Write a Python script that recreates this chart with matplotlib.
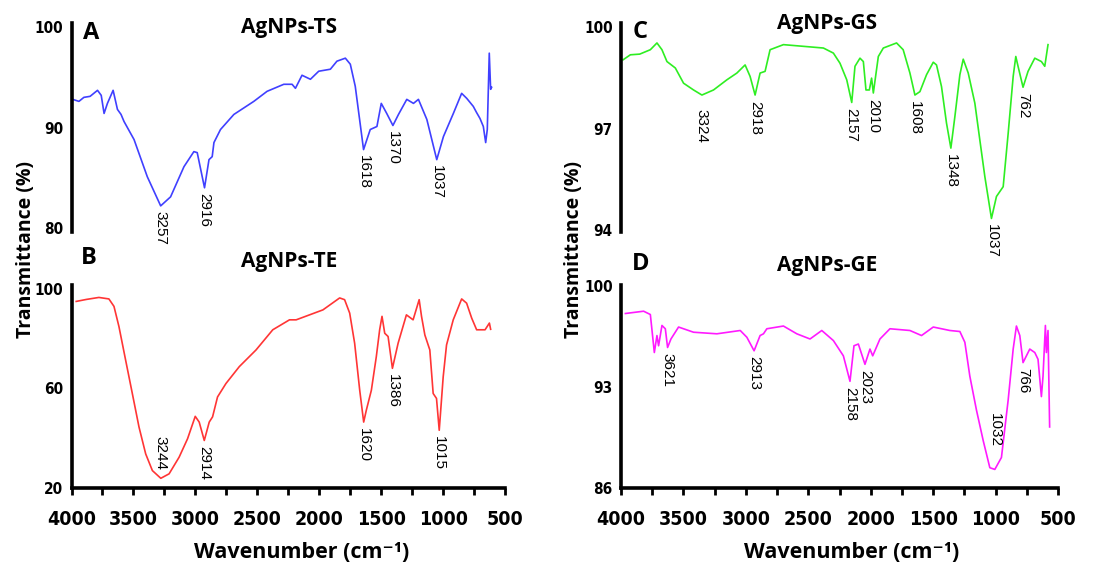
import numpy as np
import matplotlib
matplotlib.use("Agg")
import matplotlib.pyplot as plt
from matplotlib import font_manager
from matplotlib.font_manager import FontProperties
from matplotlib.ticker import MultipleLocator

# ---------------------------------------------------------
# Data
# ---------------------------------------------------------
ts_wn = [3990, 3940, 3900, 3850, 3790, 3760, 3737, 3710, 3664, 3629, 3600, 3576,
         3495, 3388, 3280, 3200, 3092, 3012, 2985, 2926, 2890, 2864, 2850, 2797,
         2689, 2528, 2421, 2286, 2219, 2192, 2139, 2071, 2004, 1910, 1857, 1789,
         1749, 1709, 1642, 1588, 1534, 1499, 1455, 1405, 1360, 1293, 1239, 1199,
         1131, 1051, 997, 917, 850, 809, 756, 730, 702, 675, 656, 643, 627, 616, 608]
ts_t = [92.8, 92.6, 93.0, 93.1, 93.7, 93.2, 91.4, 92.4, 93.7, 91.8, 91.3, 90.6,
        88.8, 85.1, 82.2, 83.1, 86.1, 87.6, 87.5, 84.0, 86.8, 87.1, 88.5, 89.8,
        91.3, 92.6, 93.6, 94.3, 94.3, 93.9, 95.2, 94.8, 95.6, 95.8, 96.6, 96.9,
        96.3, 94.1, 87.8, 89.8, 90.1, 92.4, 91.4, 90.2, 91.3, 92.8, 92.4, 92.8,
        90.8, 86.8, 89.1, 91.4, 93.4, 92.9, 92.1, 91.5, 90.9, 90.1, 88.5, 89.8,
        97.4, 93.8, 94.0]

te_wn = [3962, 3880, 3779, 3698, 3657, 3617, 3563, 3509, 3455, 3401, 3347, 3279,
         3212, 3131, 3063, 3001, 2969, 2928, 2888, 2861, 2821, 2753, 2645, 2510,
         2375, 2240, 2186, 2078, 1970, 1835, 1795, 1754, 1714, 1673, 1641, 1620,
         1579, 1539, 1512, 1493, 1471, 1444, 1409, 1363, 1296, 1242, 1193, 1174,
         1147, 1107, 1080, 1053, 1031, 999, 972, 918, 850, 810, 769, 729, 661,
         626, 616]
te_t = [95.0, 95.8, 96.6, 96.0, 93.0, 84.9, 71.4, 58.0, 44.5, 33.7, 27.0, 23.9,
        25.7, 32.4, 39.8, 48.8, 46.5, 39.1, 46.5, 48.6, 56.6, 62.0, 68.8, 75.5,
        83.6, 87.6, 87.6, 89.6, 91.6, 96.4, 95.7, 90.3, 78.2, 59.3, 46.5, 51.2,
        59.3, 72.8, 83.6, 89.0, 82.2, 80.9, 68.1, 78.2, 89.6, 87.6, 95.7, 89.0,
        81.5, 75.5, 58.0, 56.0, 43.2, 64.7, 77.5, 87.6, 96.0, 94.3, 88.3, 83.6,
        83.6, 86.3, 83.8]

gs_wn = [3984, 3925, 3850, 3765, 3712, 3672, 3632, 3565, 3499, 3419, 3352, 3259,
         3152, 3072, 3006, 2966, 2926, 2886, 2846, 2806, 2699, 2539, 2379, 2299,
         2246, 2192, 2152, 2126, 2086, 2059, 2038, 2011, 1993, 1979, 1939, 1899,
         1793, 1740, 1686, 1646, 1606, 1553, 1499, 1473, 1433, 1393, 1358, 1326,
         1286, 1259, 1219, 1166, 1126, 1086, 1033, 993, 939, 899, 859, 838, 820,
         780, 740, 686, 633, 606, 580]
gs_t = [99.03, 99.18, 99.20, 99.33, 99.53, 99.33, 98.98, 98.79, 98.34, 98.14, 97.99, 98.14,
        98.44, 98.64, 98.88, 98.54, 97.99, 98.64, 98.69, 99.33, 99.48, 99.43, 99.38, 99.23,
        98.93, 98.44, 97.77, 98.84, 99.08, 98.98, 98.14, 98.14, 98.49, 98.05, 99.13, 99.38,
        99.53, 99.33, 98.64, 97.99, 98.09, 98.59, 98.96, 98.88, 98.24, 97.16, 96.42, 97.35,
        98.59, 99.05, 98.64, 97.75, 96.66, 95.58, 94.34, 94.99, 95.28, 96.86, 98.54, 99.13, 98.84,
        98.22, 98.69, 99.08, 98.98, 98.84, 99.48]

ge_wn = [3965, 3819, 3765, 3733, 3712, 3699, 3672, 3645, 3627, 3600, 3539, 3419,
         3232, 3045, 2992, 2934, 2886, 2859, 2832, 2699, 2592, 2486, 2392, 2299,
         2219, 2166, 2134, 2099, 2046, 2006, 1984, 1926, 1846, 1686, 1593, 1499,
         1366, 1286, 1246, 1206, 1153, 1099, 1046, 1006, 953, 899, 859, 833, 806,
         780, 753, 726, 686, 660, 633, 620, 601, 593, 580, 567]
ge_t = [98.12, 98.28, 98.05, 95.41, 96.59, 95.88, 97.29, 97.06, 95.76, 96.35, 97.18, 96.82,
        96.71, 96.94, 96.47, 95.53, 96.59, 96.71, 97.06, 97.25, 96.71, 96.35, 96.94, 96.24,
        95.18, 93.41, 95.88, 96.00, 94.59, 95.65, 95.18, 96.35, 97.06, 96.94, 96.59, 97.18,
        96.94, 96.87, 96.12, 93.76, 91.41, 89.29, 87.41, 87.29, 88.12, 92.12, 95.65, 97.25, 96.59,
        94.71, 95.18, 95.65, 95.41, 94.94, 92.35, 93.76, 97.29, 95.41, 96.94, 90.24]

ts_peaks = [3257, 2916, 1618, 1370, 1037]
te_peaks = [3244, 2914, 1620, 1386, 1015]
gs_peaks = [3324, 2918, 2157, 2010, 1608, 1348, 1037, 762]
ge_peaks = [3621, 2913, 2158, 2023, 1032, 766]

# ---------------------------------------------------------
# Fonts: look for a bold condensed face for the tick numbers
# ---------------------------------------------------------
narrow_path = None
for f in font_manager.fontManager.ttflist:
    cond = ('Narrow' in f.name or 'Condensed' in f.name
            or f.stretch in ('condensed', 'semi-condensed'))
    if cond and f.weight in ('bold', 700, 'Bold'):
        narrow_path = f.fname
        break


def tick_font(size):
    if narrow_path:
        return FontProperties(fname=narrow_path, size=size)
    return FontProperties(family='Liberation Sans', weight='bold', size=size * 0.9)


HEAD = ['Open Sans', 'DejaVu Sans']

W, H = 1093, 569
fig = plt.figure(figsize=(W / 100, H / 100), dpi=100)


def box(x0, y0, x1, y1):
    # pixel box (top-left origin) -> figure fraction
    return [x0 / W, 1 - y1 / H, (x1 - x0) / W, (y1 - y0) / H]


def fx(px):
    return px / W


def fy(py):
    return 1 - py / H


panels = [
    # letter, title, wn, t, peaks, color, bbox, ylim, yticks, has_x,
    # label offsets (pt), letter xy (px), title xy (px)
    ("A", "AgNPs-TS", ts_wn, ts_t, ts_peaks, "#4040ff", box(71.5, 23, 505, 232),
     (79.6, 100.4), [80, 90, 100], False, {}, (91, 33), (289, 28)),
    ("B", "AgNPs-TE", te_wn, te_t, te_peaks, "#ff3535", box(71.5, 285, 505, 488),
     (20, 101.6), [20, 60, 100], True, {3244: 6}, (89, 258), (289, 262)),
    ("C", "AgNPs-GS", gs_wn, gs_t, gs_peaks, "#2eee22", box(621, 23, 1058, 232),
     (93.94, 100.12), [94, 97, 100], False, {3324: -10}, (640, 32), (827, 23)),
    ("D", "AgNPs-GE", ge_wn, ge_t, ge_peaks, "#ff1aff", box(621, 285, 1058, 488),
     (86, 100.1), [86, 93, 100], True, {1032: 16}, (641, 264), (827, 266)),
]

for (letter, title, wn, t, peaks, color, bb, ylim, yticks, has_x, offs,
     lxy, txy) in panels:
    ax = fig.add_axes(bb)
    ax.plot(wn, t, color=color, linewidth=1.2)
    ax.set_xlim(4000, 500)
    ax.set_ylim(*ylim)
    ax.set_yticks(yticks)
    ax.set_yticklabels([str(v) for v in yticks], fontproperties=tick_font(11))
    ax.tick_params(axis='y', length=0, pad=6)
    for s in ['top', 'right']:
        ax.spines[s].set_visible(False)
    ax.spines['left'].set_linewidth(2.6)
    if has_x:
        ax.spines['bottom'].set_linewidth(2.6)
        ax.xaxis.set_major_locator(MultipleLocator(500))
        ax.xaxis.set_minor_locator(MultipleLocator(250))
        ax.tick_params(axis='x', which='both', direction='out', length=5,
                       width=2, pad=11)
        for lb in ax.get_xticklabels():
            lb.set_fontproperties(tick_font(14))
    else:
        ax.spines['bottom'].set_visible(False)
        ax.set_xticks([])

    # peak labels at local minima near each assigned wavenumber
    wa = np.array(wn)
    ta = np.array(t)
    for p in peaks:
        sel = np.abs(wa - p) <= 60
        i = np.argmin(np.where(sel, ta, np.inf))
        off = offs.get(p, -4)
        ax.annotate(str(p), xy=(wa[i], ta[i]), xytext=(0, off),
                    textcoords='offset points', rotation=270,
                    ha='center', va='bottom' if off > 0 else 'top',
                    fontsize=11, fontfamily='Liberation Sans', color='black')

    fig.text(fx(lxy[0]), fy(lxy[1]), letter, fontsize=17, fontweight='bold',
             fontfamily=HEAD, ha='center', va='center')
    fig.text(fx(txy[0]), fy(txy[1]), title, fontsize=15, fontweight='bold',
             fontfamily=HEAD, ha='center', va='center')

for xc in (26, 574):
    fig.text(fx(xc), fy(250), "Transmittance (%)", rotation=90,
             fontsize=14, fontweight='bold', fontfamily=HEAD,
             ha='center', va='center')
for xc in (302, 852):
    fig.text(fx(xc), fy(552), "Wavenumber (cm\u207b\u00b9)",
             fontsize=15.5, fontweight='bold', fontfamily=HEAD,
             ha='center', va='center')

fig.savefig("out.png", dpi=100)
